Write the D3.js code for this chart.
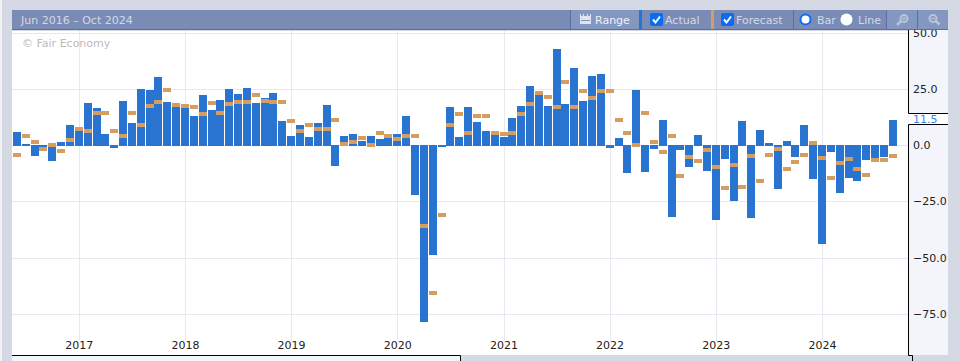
<!DOCTYPE html>
<html lang="en">
<head>
<meta charset="UTF-8"/>
<title>Jun 2016 - Oct 2024</title>
<script src="https://d3js.org/d3.v7.min.js"></script>
<style>
  html, body { margin: 0; padding: 0; background: #d5d9e3; overflow: hidden; }
  svg { display: block; }
  text { font-family: "DejaVu Sans", sans-serif; font-size: 11px; }
</style>
</head>
<body>
<script>
// one bar per month, Jun 2016 onwards
var months = d3.timeMonths(new Date(2016, 5, 1), new Date(2024, 8, 2));

var actual = [
  6.1, 0.8, -4.5, -0.7, -6.9, 1.6, 9.1,
  6.4, 18.9, 16.7, 5.1, -1.1, 19.8, 10, 25.1, 24.7, 30.4, 19.3, 17.1,
  16.7, 13.1, 22.4, 15.8, 20.2, 25.1, 22.9, 25.6, 18.9, 21.1, 23.3, 10.9,
  4.2, 9.1, 3.8, 10, 18, -9.1, 4.2, 5.1, 2, 4.2, 2.9, 3.3,
  5.1, 13.1, -22, -78.4, -48.7, -0.7, 17.1, 3.8, 17.1, 10.4, 6.4, 5,
  3.8, 12.2, 17.6, 26.4, 23, 17.6, 42.9, 18.4, 34.4, 19.8, 30.9, 31.8,
  -1.1, 3.3, -12.2, 24.7, -11.8, -1.5, 11.3, -31.8, -2, -9.5, 4.8, -11.3,
  -33.1, -6, -24.7, 10.9, -32.2, 6.9, 1.1, -19.3, 2, -5.1, 9.1, -14.9,
  -43.7, -2.9, -21.1, -14.5, -15.8, -6.4, -5.5, -5.1, 11.5
];

var forecast = [
  -4.2, 4.2, 1.6, -1.6, 0.2, -2.4, 2.4,
  7.3, 6.4, 14.4, 14.4, 6.4, 4.2, 14.4, 9.1, 17.6, 19.3, 24.7, 18,
  17.6, 17.1, 14, 18.9, 14.4, 18.4, 19.3, 19.3, 22.4, 19.8, 19.3, 19.3,
  10.9, 6.4, 9.1, 7.3, 7.3, 11.3, 0.7, 1.6, 3.3, 0.2, 5.6, 4.2,
  2.9, 4.2, 4.2, -35.8, -65.6, -30.9, 9.1, 14, 5.6, 13.1, 13.1, 5.6,
  5.1, 5.6, 14, 18.4, 23.3, 21.6, 17.1, 28.2, 17.1, 24.2, 21.1, 24.2,
  24.2, 11.3, 5.6, 0.2, 14.4, 1.6, -2.9, 4.2, -13.6, -5.1, -6.9, -2,
  -9.6, -18.9, -8.7, -18.4, -4.7, -15.8, -4.2, -1.6, -10.4, -7.3, -4.2, 1.1,
  -5.6, -14.4, -7.8, -6, -10.4, -13.1, -6.4, -6.4, -4.7
];

var yTicks = [50, 25, 0, -25, -50, -75];
var latest = 11.5;
var rangeLabel = "Jun 2016 \u2013 Oct 2024";

var w = 960;
var h = 361;

var x = d3.scalePoint().domain(months).range([17.4, 893.3]);
var y = d3.scaleLinear().domain([50, -75]).range([33, 314.25]);

var svg = d3.select("body").append("svg")
  .attr("width", w)
  .attr("height", h);

// page background + panels
svg.append("rect").attr("x", 0).attr("y", 0).attr("width", 2).attr("height", h).attr("fill", "#f1f2f6");
svg.append("rect").attr("x", 12).attr("y", 31).attr("width", 896).attr("height", 324).attr("fill", "#fff");
svg.append("rect").attr("x", 908).attr("y", 30).attr("width", 40).attr("height", 325).attr("fill", "#f4f5fa");
svg.append("rect").attr("x", 12).attr("y", 355).attr("width", 448).attr("height", 6).attr("fill", "#f4f5fa");

// gridlines
svg.append("g").selectAll("line")
  .data(yTicks)
  .enter()
  .append("line")
  .attr("x1", 12)
  .attr("x2", 908)
  .attr("y1", function(d){ return Math.floor(y(d)) + 0.5; })
  .attr("y2", function(d){ return Math.floor(y(d)) + 0.5; })
  .attr("stroke", "#e8e8f0");

var januaries = months.filter(function(d){ return d.getMonth() == 0; });

svg.append("g").selectAll("line")
  .data(januaries)
  .enter()
  .append("line")
  .attr("x1", function(d){ return Math.floor(x(d)) + 0.5; })
  .attr("x2", function(d){ return Math.floor(x(d)) + 0.5; })
  .attr("y1", 31)
  .attr("y2", 341)
  .attr("stroke", "#e8e8f0");

svg.append("text")
  .attr("x", 22)
  .attr("y", 47)
  .attr("fill", "#bbb")
  .text("\u00a9 Fair Economy");

// actual bars
svg.append("g").selectAll("rect")
  .data(actual)
  .enter()
  .append("rect")
  .attr("x", function(d, i){ return Math.floor(x(months[i]) - 4); })
  .attr("y", function(d){ return d >= 0 ? Math.round(y(d)) : 145; })
  .attr("width", 8)
  .attr("height", function(d){
    return d >= 0 ? 146 - Math.round(y(d)) : Math.round(y(d)) - 145;
  })
  .attr("fill", "#2874d0");

// forecast markers
svg.append("g").selectAll("rect")
  .data(forecast)
  .enter()
  .append("rect")
  .attr("x", function(d, i){ return Math.floor(x(months[i]) - 4); })
  .attr("y", function(d){ return Math.round(y(d)) - 2; })
  .attr("width", 8)
  .attr("height", 4)
  .attr("fill", "#d59d5f");

// x axis
var xAxis = d3.axisBottom(x)
  .tickValues(januaries)
  .tickSize(0)
  .tickPadding(0)
  .tickFormat(d3.timeFormat("%Y"));

svg.append("g")
  .attr("transform", "translate(-0.6,341)")
  .call(xAxis)
  .call(function(g){ g.select(".domain").remove(); })
  .selectAll("text")
  .attr("fill", "#222")
  .style("font-family", "DejaVu Sans")
  .style("font-size", "11px");

// y axis
var yAxis = d3.axisRight(y)
  .tickValues(yTicks)
  .tickSize(0)
  .tickPadding(5)
  .tickFormat(d3.format(".1f"));

svg.append("g")
  .attr("transform", "translate(908,-0.5)")
  .call(yAxis)
  .call(function(g){ g.select(".domain").remove(); })
  .selectAll("text")
  .attr("fill", "#222")
  .style("font-family", "DejaVu Sans")
  .style("font-size", "11px");

// latest value tag, cuts the axis line
svg.append("path")
  .attr("d", "M908.5,30V113.5H948M948,124.5H908.5V355.5H912.5V361")
  .attr("fill", "none")
  .attr("stroke", "#000");
svg.append("rect").attr("x", 909).attr("y", 114).attr("width", 39).attr("height", 10).attr("fill", "#fff");
svg.append("text")
  .attr("x", 913)
  .attr("y", 123)
  .attr("fill", "#3a86dc")
  .text(d3.format(".1f")(latest));

// bottom edge of the x axis
svg.append("path")
  .attr("d", "M12,355.5H460.5V361")
  .attr("fill", "none")
  .attr("stroke", "#000");

// toolbar
var bar = svg.append("g");
bar.append("rect").attr("x", 12).attr("y", 10).attr("width", 936).attr("height", 20).attr("fill", "#7a8cb6");
bar.append("rect").attr("x", 12).attr("y", 29).attr("width", 936).attr("height", 1).attr("fill", "#5a6ea3");
bar.append("rect").attr("x", 571).attr("y", 10).attr("width", 68).attr("height", 19).attr("fill", "#8497c0");
bar.append("rect").attr("x", 887).attr("y", 10).attr("width", 61).attr("height", 19).attr("fill", "#8497c0");
[570, 793, 886, 917].forEach(function(d){
  bar.append("rect").attr("x", d).attr("y", 10).attr("width", 1).attr("height", 19).attr("fill", "#5a6ea3");
});
bar.append("rect").attr("x", 639).attr("y", 10).attr("width", 3).attr("height", 19).attr("fill", "#2874d0");
bar.append("rect").attr("x", 711).attr("y", 10).attr("width", 3).attr("height", 19).attr("fill", "#d59d5f");

bar.append("text").attr("x", 21).attr("y", 24).attr("fill", "#d3d8e6").text(rangeLabel);
bar.append("text").attr("x", 595).attr("y", 24).attr("fill", "#eef0f6").text("Range");
bar.append("text").attr("x", 665).attr("y", 24).attr("fill", "#d3d8e6").text("Actual");
bar.append("text").attr("x", 736).attr("y", 24).attr("fill", "#d3d8e6").text("Forecast");
bar.append("text").attr("x", 817).attr("y", 24).attr("fill", "#d3d8e6").text("Bar");
bar.append("text").attr("x", 858).attr("y", 24).attr("fill", "#d3d8e6").text("Line");

// calendar icon on Range
bar.append("path")
  .attr("d", "M580,14h1v2h2v-2h1v2h3v-2h1v2h2v-2h1v2h0v8h-11z")
  .attr("fill", "#dfe3ee");
bar.append("rect").attr("x", 581).attr("y", 20).attr("width", 9).attr("height", 1).attr("fill", "#8497c0");

// checkboxes
[650, 721].forEach(function(d){
  bar.append("rect").attr("x", d).attr("y", 13).attr("width", 13).attr("height", 13).attr("rx", 2).attr("fill", "#0b6cf2");
  bar.append("path")
    .attr("d", "M" + (d + 3) + ",19.5l2.5,3l4.5,-6")
    .attr("fill", "none")
    .attr("stroke", "#fff")
    .attr("stroke-width", 2);
});

// radios
bar.append("circle").attr("cx", 805.5).attr("cy", 19.5).attr("r", 5).attr("fill", "#fff").attr("stroke", "#0b6cf2").attr("stroke-width", 2);
bar.append("circle").attr("cx", 846.5).attr("cy", 19.5).attr("r", 6).attr("fill", "#fff");

// zoom icons, in has its handle lower left, out lower right
var iconColor = "#b9c3da";
bar.append("circle").attr("cx", 904).attr("cy", 18.5).attr("r", 3.5).attr("fill", "none").attr("stroke", iconColor).attr("stroke-width", 2);
bar.append("path").attr("d", "M901,21l-4,4").attr("stroke", iconColor).attr("stroke-width", 2.5);
bar.append("path").attr("d", "M902,18.5h4M904,16.5v4").attr("stroke", iconColor).attr("stroke-width", 1);
bar.append("circle").attr("cx", 933).attr("cy", 18.5).attr("r", 3.5).attr("fill", "none").attr("stroke", iconColor).attr("stroke-width", 2);
bar.append("path").attr("d", "M936,21l3.5,3.5").attr("stroke", iconColor).attr("stroke-width", 2.5);
bar.append("path").attr("d", "M931,18.5h4").attr("stroke", iconColor).attr("stroke-width", 1);
</script>
</body>
</html>
